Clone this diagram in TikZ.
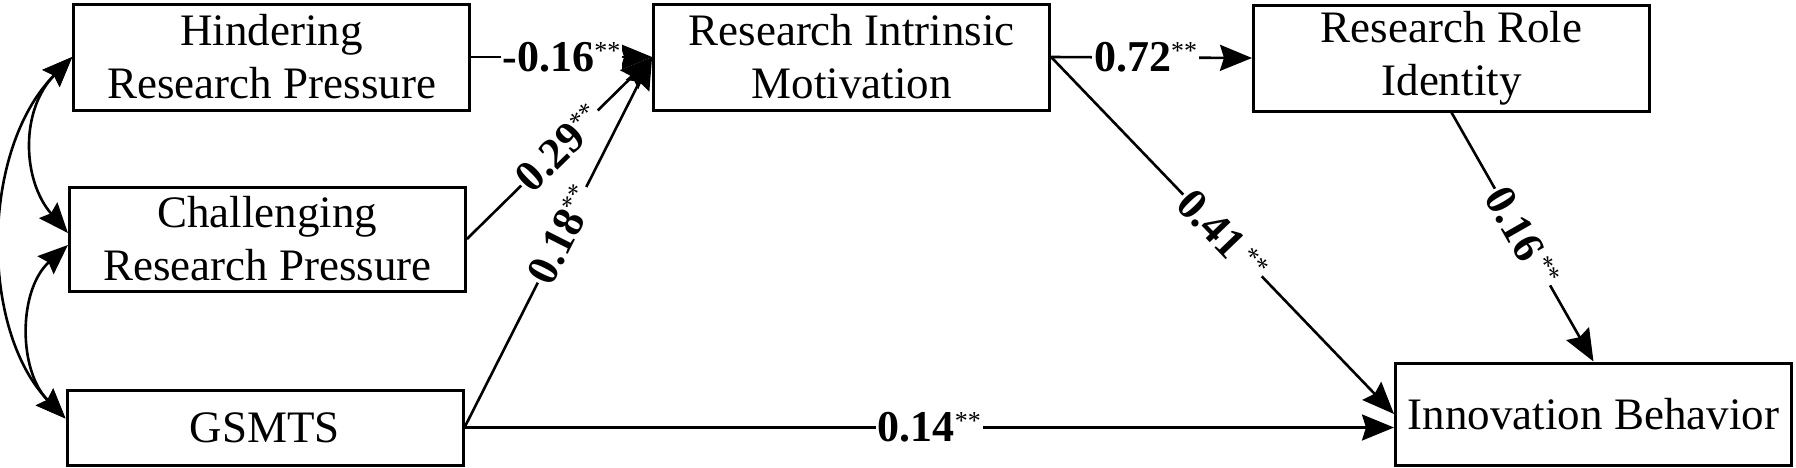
\documentclass[tikz,border=0pt]{standalone}
\usepackage{fontspec}
\setmainfont{Liberation Serif}
\usetikzlibrary{arrows.meta,calc}
\newcommand{\sigstars}{\raisebox{6pt}{\fontsize{13}{13}\selectfont\mdseries **}}
\begin{document}
\begin{tikzpicture}[x=0.5pt,y=-0.5pt,
  box/.style={draw, line width=1.5pt, minimum width=198pt, inner sep=0pt, align=center,
    font=\fontsize{22.5}{26.5}\selectfont},
  arr/.style={-{Stealth[length=16pt,width=13pt,inset=2pt]}, line width=1.3pt},
  dblarr/.style={{Stealth[length=15pt,width=12pt,inset=2pt]}-{Stealth[length=15pt,width=12pt,inset=2pt]}, line width=1.3pt},
  lab/.style={fill=white, inner sep=1pt, font=\fontsize{22}{22}\selectfont\bfseries}]
\useasboundingbox (0,0) rectangle (1796,467);
% boxes
\node[box, minimum height=53pt] (hin) at (271.7,57) {Hindering\\Research Pressure};
\node[box, minimum height=52pt] (chal) at (267.4,239) {Challenging\\Research Pressure};
\node[box, minimum height=37.5pt] (gsm) at (265,427.5) {GSMTS};
\node[box, minimum height=53pt] (rim) at (851.6,57) {Research Intrinsic\\Motivation};
\node[box, minimum height=53pt] (rri) at (1451.5,58) {Research Role\\Identity};
\node[box, minimum height=51pt] (inno) at (1593.5,414) {Innovation Behavior};
% correlations
\draw[dblarr] (hin.west) .. controls (20,110) and (22,180) .. ($(chal.west)+(0,-6)$);
\draw[dblarr] ($(chal.west)+(0,6)$) .. controls (18,290) and (18,370) .. ($(gsm.west)+(0,-9)$);
\draw[dblarr] (hin.west) .. controls (-20,150) and (-20,330) .. ($(gsm.west)+(0,-9)$);
% paths
\draw[arr] (hin.east) -- node[lab, pos=0.5] {-0.16\sigstars} (rim.west);
\draw[arr] (chal.east) -- node[lab, sloped, pos=0.5] {0.29\sigstars} (rim.west);
\draw[arr] (gsm.east) -- node[lab, sloped, pos=0.52] {0.18\sigstars} (rim.west);
\draw[arr] (rim.east) -- node[lab, pos=0.47] {0.72\sigstars} (rri.west);
\draw[arr] (rim.east) -- node[lab, sloped, pos=0.5] {0.41\hspace{3pt}\sigstars} (inno.west);
\draw[arr] (rri.south) -- node[lab, sloped, pos=0.5] {0.16\hspace{2pt}\sigstars} (inno.north);
\draw[arr] (gsm.east) -- node[lab, pos=0.5] {0.14\sigstars} (gsm.east -| inno.west);
\end{tikzpicture}
\end{document}
